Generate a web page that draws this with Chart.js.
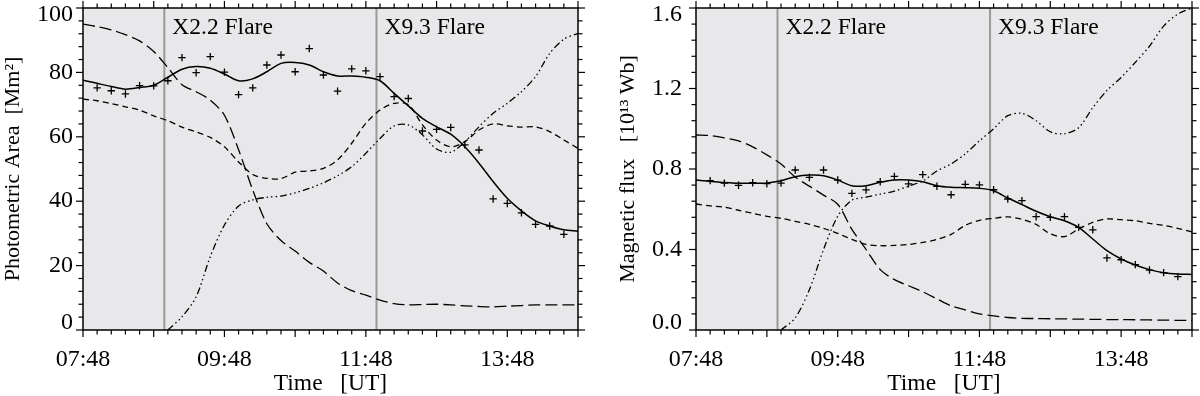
<!DOCTYPE html>
<html>
<head>
<meta charset="utf-8">
<script src="https://cdn.jsdelivr.net/npm/chart.js@4.4.1/dist/chart.umd.min.js"></script>
<style>
  html, body { margin: 0; padding: 0; background: #fff; }
  #wrap { position: relative; width: 1200px; height: 396px; }
  .panel { position: absolute; top: 0; width: 600px; height: 396px; }
</style>
</head>
<body>
<div id="wrap">
  <div class="panel" style="left:0"><canvas id="area-chart" width="600" height="396"></canvas></div>
  <div class="panel" style="left:600px"><canvas id="flux-chart" width="600" height="396"></canvas></div>
</div>
<script>
// sampling times (UT), one every 12 min
const times = ['07:48', '08:00', '08:12', '08:24', '08:36', '08:48', '09:00', '09:12', '09:24', '09:36',
               '09:48', '10:00', '10:12', '10:24', '10:36', '10:48', '11:00', '11:12', '11:24', '11:36',
               '11:48', '12:00', '12:12', '12:24', '12:36', '12:48', '13:00', '13:12', '13:24', '13:36',
               '13:48', '14:00', '14:12', '14:24', '14:36', '14:48'];
const xTickLabels = ['07:48', '09:48', '11:48', '13:48'];
const flareTimes = ['08:57', '11:57'];
const flareNames = ['X2.2 Flare', 'X9.3 Flare'];

// left panel: photometric area [Mm^2]
const areaSolid = [77.6, 76.6, 75.6, 74.8, 75.3, 76.0, 78.5, 81.0, 81.8, 81.3, 79.5, 77.4, 78.0, 80.2, 82.8, 83.1, 82.3, 80.2,
                   78.9, 78.9, 78.5, 77.4, 73.5, 69.6, 65.7, 63.1, 60.8, 56.9, 51.8, 46.1, 40.9, 37.0, 33.9, 32.3, 31.1, 30.7];
const areaPlus = [null, 75.2, 74.3, 73.3, 75.9, 75.8, 77.4, 84.6, 79.9, 84.9, 80.1, 73.1, 75.2, 82.3, 85.4, 80.2, 87.4, 79.2,
                  74.2, 81.1, 80.5, 78.7, 72.5, 71.9, 61.8, 62.3, 62.9, 57.5, 55.9, 40.7, 39.3, 36.4, 32.8, 32.3, 29.7, null];
const areaLongDash = [95.0, 94.2, 93.2, 91.7, 89.8, 86.5, 81.5, 76.2, 74.0, 71.4, 66.7, 56.0, 43.5, 33.0, 27.8, 24.5, 21.0, 18.3,
                      14.6, 12.2, 10.8, 9.3, 8.2, 7.8, 7.9, 8.0, 7.8, 7.5, 7.3, 7.2, 7.4, 7.6, 7.8, 7.8, 7.8, 7.8];
const areaShortDash = [71.7, 71.2, 70.3, 69.3, 68.3, 66.5, 65.0, 63.0, 61.5, 59.8, 56.9, 52.2, 48.3, 47.1, 47.0, 49.0, 49.4, 50.2,
                       52.8, 58.0, 64.2, 68.3, 70.4, 70.0, 63.7, 59.0, 56.9, 58.5, 62.1, 64.0, 63.4, 63.0, 63.1, 61.6, 59.0, 56.4];
const areaDashDot = [null, null, null, null, null, null, 0, 4.1, 10.3, 22.8, 32.6, 38.5, 40.4, 41.2, 41.6, 42.6, 44.0, 45.7,
                     47.9, 50.7, 54.9, 59.5, 63.4, 63.7, 60.6, 56.2, 55.2, 58.5, 63.1, 67.3, 70.4, 74.0, 78.7, 85.9, 90.3, 92.1];

// right panel: magnetic flux [10^13 Wb]
const fluxSolid = [0.745, 0.739, 0.733, 0.729, 0.729, 0.731, 0.742, 0.762, 0.770, 0.767, 0.745, 0.717, 0.717, 0.734, 0.745, 0.745, 0.737, 0.717,
                   0.709, 0.707, 0.704, 0.692, 0.656, 0.623, 0.590, 0.563, 0.543, 0.510, 0.452, 0.394, 0.353, 0.323, 0.300, 0.285, 0.278, 0.276];
const fluxPlus = [null, 0.742, 0.730, 0.719, 0.732, 0.727, 0.730, 0.795, 0.758, 0.795, 0.745, 0.679, 0.696, 0.737, 0.763, 0.726, 0.772, 0.714,
                  0.672, 0.724, 0.721, 0.697, 0.651, 0.643, 0.563, 0.560, 0.563, 0.510, 0.498, 0.358, 0.349, 0.325, 0.298, 0.285, 0.265, null];
const fluxLongDash = [0.969, 0.966, 0.955, 0.940, 0.910, 0.870, 0.825, 0.760, 0.715, 0.670, 0.625, 0.500, 0.400, 0.300, 0.250, 0.220, 0.190, 0.155,
                      0.120, 0.100, 0.080, 0.070, 0.062, 0.058, 0.057, 0.056, 0.055, 0.054, 0.053, 0.052, 0.052, 0.051, 0.050, 0.049, 0.048, 0.047];
const fluxShortDash = [0.626, 0.617, 0.610, 0.595, 0.580, 0.565, 0.555, 0.540, 0.525, 0.505, 0.480, 0.450, 0.425, 0.419, 0.420, 0.425, 0.435, 0.450,
                       0.475, 0.520, 0.545, 0.555, 0.562, 0.550, 0.525, 0.478, 0.464, 0.502, 0.535, 0.552, 0.548, 0.543, 0.530, 0.520, 0.505, 0.487];
const fluxDashDot = [null, null, null, null, null, null, 0, 0.06, 0.20, 0.40, 0.565, 0.645, 0.660, 0.675, 0.690, 0.715, 0.740, 0.790,
                     0.825, 0.875, 0.940, 1.000, 1.065, 1.077, 1.040, 0.985, 0.975, 1.005, 1.105, 1.190, 1.255, 1.330, 1.410, 1.510, 1.570, 1.600];

const FONT = 'Liberation Serif';
Chart.defaults.font.family = FONT;
Chart.defaults.color = '#000';

const toMin = t => {
    const [h, m] = t.split(':').map(Number);
    return h * 60 + m - (7 * 60 + 48);
};

const series = arr => times.map((t, i) => ({ x: toMin(t), y: arr[i] })).filter(p => p.y !== null);

// background, frame, outward ticks on all four sides, flare markers
const framePlugin = {
    id: 'frame',
    beforeDraw(chart) {
        const { ctx, chartArea: a } = chart;
        ctx.save();
        ctx.fillStyle = '#e8e8eb';
        ctx.fillRect(a.left, a.top, a.width, a.height);
        ctx.restore();
    },
    beforeDatasetsDraw(chart) {
        const { ctx, chartArea: a, scales: { x } } = chart;
        ctx.save();
        ctx.strokeStyle = '#9a9a9a';
        ctx.lineWidth = 2;
        ctx.fillStyle = '#000';
        ctx.font = '23.5px "' + FONT + '"';
        ctx.textBaseline = 'middle';
        flareTimes.forEach((t, i) => {
            const px = x.getPixelForValue(toMin(t));
            ctx.beginPath();
            ctx.moveTo(px, a.top);
            ctx.lineTo(px, a.bottom);
            ctx.stroke();
            ctx.fillText(flareNames[i], px + 8, a.top + 20);
        });
        ctx.restore();
    },
    afterDraw(chart, args, opts) {
        const { ctx, chartArea: a, scales: { x, y } } = chart;
        ctx.save();
        ctx.strokeStyle = '#000';
        ctx.lineWidth = 1.2;
        const line = (x1, y1, x2, y2) => { ctx.beginPath(); ctx.moveTo(x1, y1); ctx.lineTo(x2, y2); ctx.stroke(); };
        const nx = Math.round((x.max - x.min) / opts.xMinor);
        const kx = Math.round(opts.xMajor / opts.xMinor);
        for (let i = 0; i <= nx; i++) {
            const px = x.getPixelForValue(x.min + i * opts.xMinor);
            const len = i % kx === 0 ? 7 : 4.5;
            line(px, a.bottom, px, a.bottom + len);
            line(px, a.top, px, a.top - len);
        }
        const ny = Math.round((y.max - y.min) / opts.yMinor);
        const ky = Math.round(opts.yMajor / opts.yMinor);
        for (let i = 0; i <= ny; i++) {
            const py = y.getPixelForValue(y.min + i * opts.yMinor);
            const len = i % ky === 0 ? 7 : 4.5;
            line(a.left, py, a.left - len, py);
            line(a.right, py, a.right + len, py);
        }
        ctx.lineWidth = 1.5;
        ctx.strokeRect(a.left, a.top, a.width, a.height);
        ctx.restore();
    }
};

function makePanel(id, p) {
    const lineSet = (data, dash, width) => ({
        data: series(data), showLine: true, borderColor: '#000', borderWidth: width, borderDash: dash,
        pointRadius: 0, tension: 0.3, fill: false
    });
    return new Chart(document.getElementById(id), {
        type: 'scatter',
        data: {
            datasets: [
                lineSet(p.solid, [], 1.5),
                {
                    data: series(p.plus), showLine: false, pointStyle: 'cross', pointRadius: 3.7,
                    borderColor: '#000', borderWidth: 1.3
                },
                lineSet(p.longDash, [12, 5], 1.3),
                lineSet(p.shortDash, [6, 4], 1.3),
                lineSet(p.dashDot, [7, 3, 1.5, 3, 1.5, 3, 1.5, 3], 1.3)
            ]
        },
        options: {
            responsive: false,
            animation: false,
            devicePixelRatio: 1,
            layout: { padding: { top: 8, right: p.padRight, left: 0, bottom: 0 } },
            plugins: {
                legend: { display: false },
                tooltip: { enabled: false },
                frame: { xMinor: 12, xMajor: 60, yMinor: p.yMinor, yMajor: p.yStep }
            },
            scales: {
                x: {
                    type: 'linear', min: 0, max: toMin('14:48'),
                    grid: { display: false, drawTicks: false },
                    border: { display: false },
                    ticks: {
                        stepSize: 120, autoSkip: false, maxRotation: 0, padding: 15,
                        font: { size: 24 },
                        callback: v => xTickLabels.find(l => toMin(l) === v) || ''
                    },
                    title: {
                        display: true, text: 'Time   [UT]', padding: 0,
                        font: { size: 23.5, lineHeight: 1.0 }
                    },
                    afterFit(s) { s.height = 66; s.paddingLeft = 0; s.paddingRight = 0; }
                },
                y: {
                    min: 0, max: p.yMax,
                    grid: { display: false, drawTicks: false },
                    border: { display: false },
                    ticks: {
                        stepSize: p.yStep, autoSkip: false, padding: p.yPad,
                        font: { size: 24, lineHeight: 0.6 },
                        callback: function (v) {
                            const s = p.fmt(v);
                            if (v >= this.max - 1e-9) return ['', s];
                            if (v <= this.min + 1e-9) return [s, ''];
                            return s;
                        }
                    },
                    title: {
                        display: true, text: p.yTitle, padding: { top: p.titlePad, bottom: 0 },
                        font: { size: 22 }
                    },
                    afterFit(s) { s.width = p.yWidth; s.paddingTop = 0; s.paddingBottom = 0; }
                }
            }
        },
        plugins: [framePlugin]
    });
}

makePanel('area-chart', {
    solid: areaSolid, plus: areaPlus, longDash: areaLongDash, shortDash: areaShortDash, dashDot: areaDashDot,
    yMax: 100, yStep: 20, yMinor: 4, fmt: v => String(Math.round(v)),
    yTitle: 'Photometric Area  [Mm\u00B2]', titlePad: 0, yWidth: 83, yPad: 10, padRight: 22
});

makePanel('flux-chart', {
    solid: fluxSolid, plus: fluxPlus, longDash: fluxLongDash, shortDash: fluxShortDash, dashDot: fluxDashDot,
    yMax: 1.6, yStep: 0.4, yMinor: 0.08, fmt: v => v.toFixed(1),
    yTitle: 'Magnetic flux   [10\u00B9\u00B3 Wb]', titlePad: 15, yWidth: 96, yPad: 14, padRight: 8
});
</script>
</body>
</html>
